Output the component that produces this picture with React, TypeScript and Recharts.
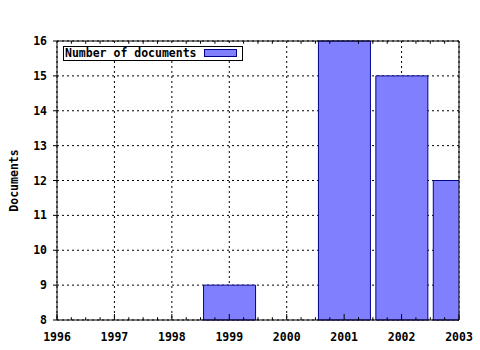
import React from "react"
import { BarChart, Bar, XAxis, YAxis, CartesianGrid, Legend, ReferenceLine, Label } from "recharts"

const years = [1999, 2001, 2002, 2003]
const documents = [9, 16, 15, 12]
const yearTicks = [1996, 1997, 1998, 1999, 2000, 2001, 2002, 2003]
const docTicks = [8, 9, 10, 11, 12, 13, 14, 15, 16]
const seriesName = "Number of documents"

const data = years.map((year, i) => ({ year, documents: documents[i] }))
// quarter-year minor tics, like the original plot
const minorTicks = yearTicks.slice(0, -1).flatMap((y) => [0.25, 0.5, 0.75].map((f) => y + f))

const FONT = "'DejaVu Sans Mono', monospace"
const tickStyle = { fontFamily: FONT, fontWeight: "bold" as const, fontSize: 11.5, fill: "#000" }

const LegendBox = () => (
  <div
    style={{
      display: "inline-flex",
      alignItems: "center",
      border: "1px solid #000",
      background: "#fff",
      height: 13,
      padding: "0 5px 0 1px",
      fontFamily: FONT,
      fontWeight: "bold",
      fontSize: 11.5,
      color: "#000",
      whiteSpace: "nowrap",
    }}
  >
    <span>{seriesName}</span>
    <span
      style={{
        display: "inline-block",
        width: 31,
        height: 6,
        marginLeft: 7,
        background: "#8080ff",
        border: "1px solid #00008b",
      }}
    />
  </div>
)

const YLabel = (props: any) => {
  const { x, y, height } = props.viewBox
  const cx = x + 14
  const cy = y + height / 2
  return (
    <text
      x={cx}
      y={cy}
      transform={`rotate(-90, ${cx}, ${cy})`}
      textAnchor="middle"
      dominantBaseline="central"
      style={tickStyle}
    >
      Documents
    </text>
  )
}

export default function App() {
  return (
    <div style={{ position: "absolute", left: 0, top: 0, background: "#fff" }}>
      <BarChart width={480} height={350} data={data} margin={{ top: 31, right: 21, bottom: 0, left: 0 }}>
        <CartesianGrid stroke="#000" strokeDasharray="2 3" />
        <XAxis
          dataKey="year"
          type="number"
          domain={[1996, 2003]}
          ticks={yearTicks}
          allowDataOverflow
          height={30}
          axisLine={{ stroke: "#000" }}
          tickLine={{ stroke: "#000" }}
          tickSize={-6}
          tickMargin={19}
          tick={tickStyle}
          interval={0}
        />
        <XAxis
          xAxisId="top"
          orientation="top"
          dataKey="year"
          type="number"
          domain={[1996, 2003]}
          ticks={yearTicks}
          allowDataOverflow
          height={10}
          axisLine={{ stroke: "#000" }}
          tickLine={{ stroke: "#000" }}
          tickSize={-5}
          tick={false}
        />
        <YAxis
          type="number"
          domain={[8, 16]}
          ticks={docTicks}
          width={57}
          axisLine={{ stroke: "#000" }}
          tickLine={{ stroke: "#000" }}
          tickSize={4}
          tickMargin={6}
          tick={tickStyle}
          interval={0}
        >
          <Label content={YLabel} />
        </YAxis>
        <ReferenceLine x={2003} stroke="#000" />
        {minorTicks.map((t) => (
          <ReferenceLine
            key={`b${t}`}
            segment={[{ x: t, y: 8 }, { x: t, y: 8.08 }]}
            stroke="#000"
          />
        ))}
        {minorTicks.map((t) => (
          <ReferenceLine
            key={`t${t}`}
            segment={[{ x: t, y: 16 }, { x: t, y: 15.92 }]}
            stroke="#000"
          />
        ))}
        <Legend
          layout="horizontal"
          align="center"
          verticalAlign="middle"
          content={LegendBox}
          wrapperStyle={{ left: 63, top: 43, width: "auto", height: "auto" }}
        />
        <Bar
          dataKey="documents"
          name={seriesName}
          fill="#8080ff"
          stroke="#00008b"
          strokeWidth={1}
          barSize={52}
          isAnimationActive={false}
        />
      </BarChart>
    </div>
  )
}
